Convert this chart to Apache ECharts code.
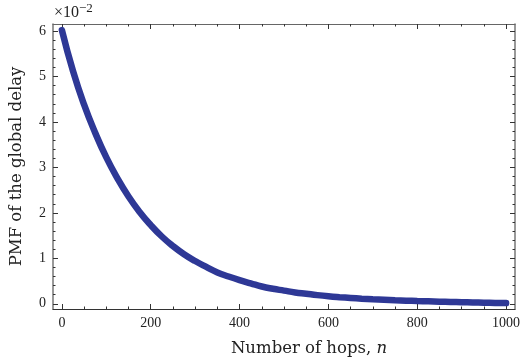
<!DOCTYPE html>
<html>
<head>
<meta charset="utf-8">
<script src="https://cdn.jsdelivr.net/npm/echarts@6/dist/echarts.min.js"></script>
<style>
  html, body { margin: 0; padding: 0; background: #fff; }
  #container { width: 524px; height: 362px; }
</style>
</head>
<body>
<div id="container"></div>
<script>
;(function() {

  // number of hops n
  var hops = [0, 25, 50, 75, 100, 125, 150, 175, 200, 225, 250, 275, 300, 325, 350, 375, 400,
    425, 450, 475, 500, 525, 550, 575, 600, 625, 650, 675, 700, 725, 750, 775, 800,
    825, 850, 875, 900, 925, 950, 975, 1000]
  // PMF of the global delay
  var pmf = [0.0602, 0.0512, 0.0438, 0.0376, 0.0322, 0.0276, 0.0236, 0.0202, 0.0173, 0.0148,
    0.0127, 0.0109, 0.0094, 0.0081, 0.0069, 0.0060, 0.0052, 0.0045, 0.0038, 0.0033,
    0.0029, 0.0025, 0.0022, 0.0019, 0.00165, 0.00145, 0.00128, 0.00112, 0.00098, 0.00087,
    0.00077, 0.00068, 0.00060, 0.00053, 0.00046, 0.00040, 0.00034, 0.00029, 0.00024,
    0.00019, 0.00015]

  var xLabels = [0, 200, 400, 600, 800, 1000]
  var xMinor = [0, 50, 100, 150, 200, 250, 300, 350, 400, 450, 500, 550, 600, 650, 700, 750, 800, 850, 900, 950, 1000]
  var yLabels = [0, 0.01, 0.02, 0.03, 0.04, 0.05, 0.06]
  var yMinor = [0, 0.002, 0.004, 0.006, 0.008, 0.01, 0.012, 0.014, 0.016, 0.018, 0.02, 0.022, 0.024, 0.026,
    0.028, 0.03, 0.032, 0.034, 0.036, 0.038, 0.04, 0.042, 0.044, 0.046, 0.048, 0.05, 0.052, 0.054,
    0.056, 0.058, 0.06]

  var serif = 'Liberation Serif'
  var titleFont = 'DejaVu Serif'
  var dom = document.getElementById('container')
  var myChart = echarts.init(dom)

  var seriesData = []
  for (var i = 0; i < hops.length; i++) seriesData.push([hops[i], pmf[i]])

  // grid 0 holds the major ticks and labels, grid 1 (same box) the minor ticks
  function xAx(grid, pos, major, labels, lineColor) {
    return {
      gridIndex: grid, type: 'value', position: pos, min: -20, max: 1020,
      axisLine: { show: !!lineColor, onZero: false, lineStyle: { color: lineColor || '#333', width: 1.2 } },
      axisTick: { inside: true, length: major ? 5 : 2.5, customValues: major ? xLabels : xMinor,
        lineStyle: { color: '#333', width: 1 } },
      axisLabel: labels ? { customValues: xLabels, margin: 7, fontFamily: serif, fontSize: 14, color: '#222',
        formatter: function(v) { return String(Math.round(v)) } } : { show: false },
      splitLine: { show: false }
    }
  }
  function yAx(grid, pos, major, labels, lineColor, name) {
    return {
      gridIndex: grid, type: 'value', position: pos, min: -0.00115, max: 0.06155,
      name: name || '',
      nameLocation: 'middle', nameGap: 28,
      nameTextStyle: { fontFamily: titleFont, fontSize: 16.5, color: '#222' },
      axisLine: { show: !!lineColor, onZero: false, lineStyle: { color: lineColor || '#333', width: 1.5 } },
      axisTick: { inside: true, length: major ? 5 : 2.5, customValues: major ? yLabels : yMinor,
        lineStyle: { color: '#333', width: 1 } },
      axisLabel: labels ? { customValues: yLabels, margin: 7, fontFamily: serif, fontSize: 14, color: '#222',
        formatter: function(v) { return String(Math.round(v * 100)) } } : { show: false },
      splitLine: { show: false }
    }
  }

  var box = { left: 53, right: 9, top: 24, bottom: 53 }
  var option = {
    backgroundColor: '#fff',
    animation: false,
    grid: [box, box],
    xAxis: [
      xAx(0, 'bottom', true, true, '#333'),
      xAx(0, 'top', true, false, '#666'),
      xAx(1, 'bottom', false, false, null),
      xAx(1, 'top', false, false, null)
    ],
    yAxis: [
      yAx(0, 'left', true, true, '#777', 'PMF of the global delay'),
      yAx(0, 'right', true, false, '#777'),
      yAx(1, 'left', false, false, null),
      yAx(1, 'right', false, false, null)
    ],
    graphic: [{
      type: 'text', left: 54, top: 2,
      style: {
        text: '{a|×10}{s|−2}',
        rich: {
          a: { fontFamily: serif, fontSize: 16, fill: '#222', verticalAlign: 'bottom' },
          s: { fontFamily: serif, fontSize: 13, fill: '#222', verticalAlign: 'top', padding: [0, 0, 6, 0] }
        }
      }
    }, {
      type: 'text', x: 309, y: 349,
      style: {
        text: '{a|Number of hops, }{i|n}',
        align: 'center', verticalAlign: 'middle',
        rich: {
          a: { fontFamily: titleFont, fontSize: 16.5, fill: '#222' },
          i: { fontFamily: titleFont, fontStyle: 'italic', fontSize: 16.5, fill: '#222' }
        }
      }
    }],
    series: [{
      type: 'line',
      xAxisIndex: 0, yAxisIndex: 0,
      data: seriesData,
      smooth: true,
      showSymbol: false,
      lineStyle: { color: '#2e3896', width: 6.5, cap: 'round' }
    }]
  }

  myChart.setOption(option, true)
})()
</script>
</body>
</html>
